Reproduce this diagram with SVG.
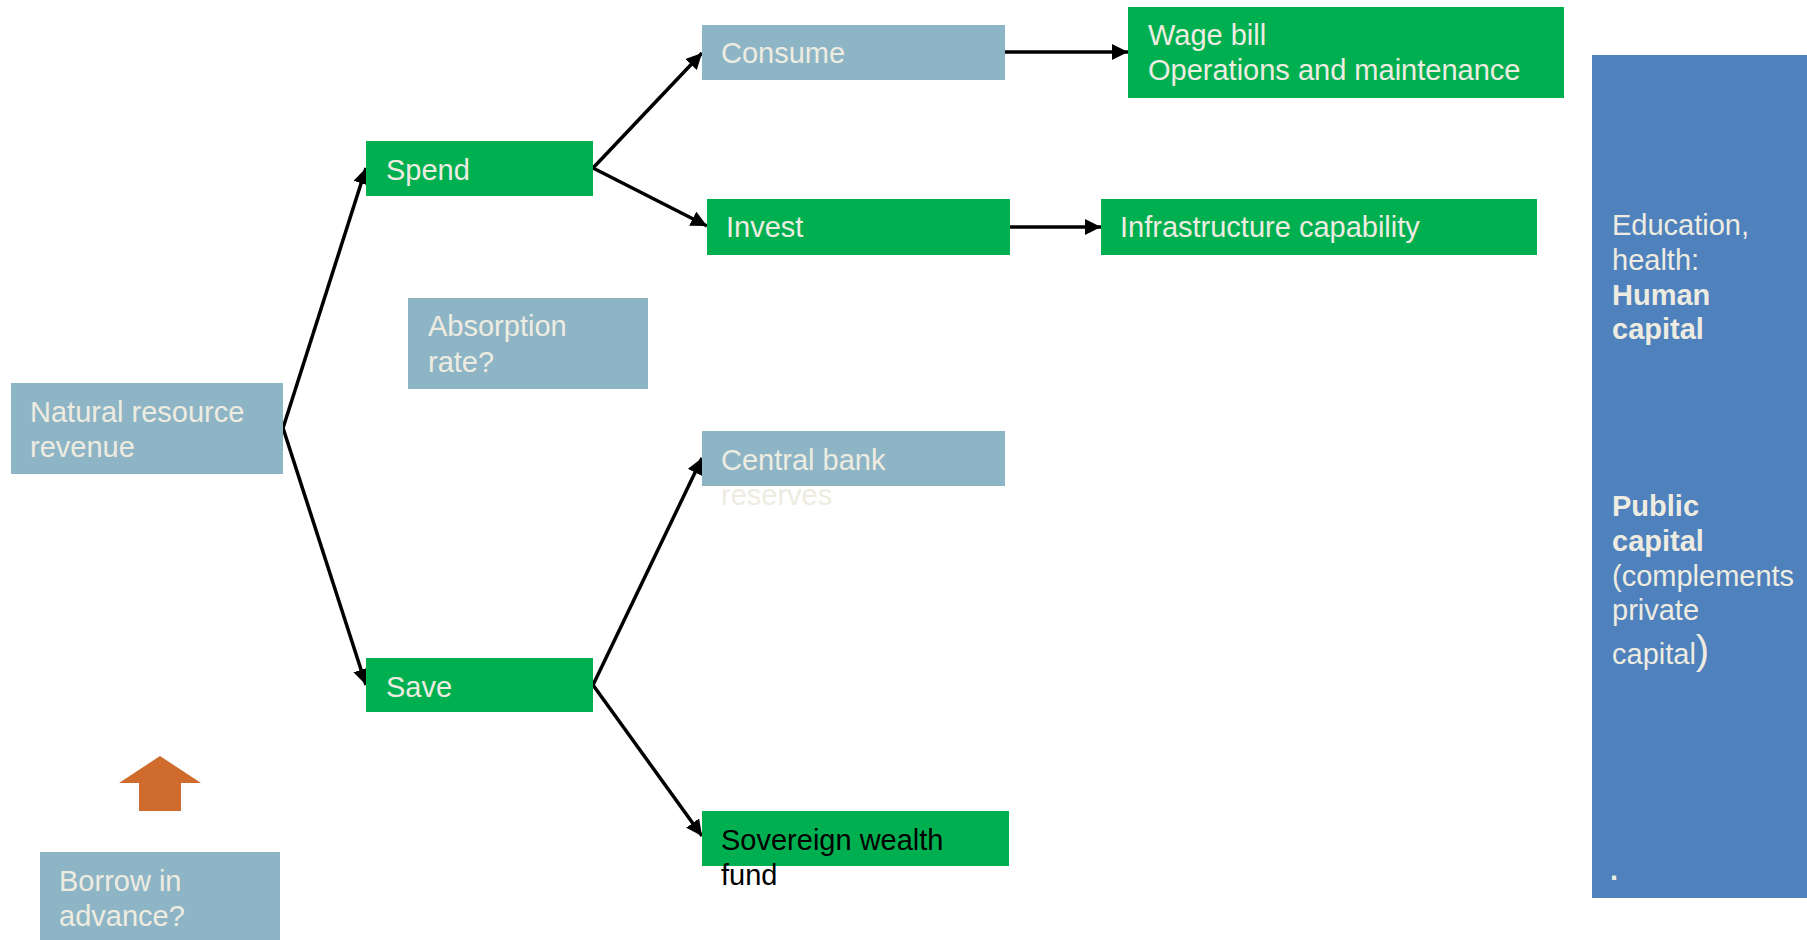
<svg xmlns="http://www.w3.org/2000/svg" width="1807" height="940" viewBox="0 0 1807 940">
  <style>
    .t { font-family: "Liberation Sans", Arial, sans-serif; font-size: 29px; fill: #EEECE1; }
    .dark { fill: #000000; }
    .b { font-weight: bold; }
    .gray { fill: #8EB5C6; }
    .green { fill: #00B050; }
    .panel { fill: #4F81BD; }
    .conn { stroke: #000000; stroke-width: 3.5; fill: none; marker-end: url(#arrow); }
  </style>
  <defs>
    <marker id="arrow" markerUnits="userSpaceOnUse" markerWidth="18" markerHeight="18" refX="16" refY="8" orient="auto">
      <path d="M0,0 L16,8 L0,16 z" fill="#000000"/>
    </marker>
  </defs>
  <rect width="1807" height="940" fill="#FFFFFF"/>

  <g id="panel">
    <rect class="panel" x="1592" y="55" width="215" height="843"/>
    <text class="t" x="1612" y="235">Education,</text>
    <text class="t" x="1612" y="270">health:</text>
    <text class="t b" x="1612" y="305">Human</text>
    <text class="t b" x="1612" y="339">capital</text>
    <text class="t b" x="1612" y="516">Public</text>
    <text class="t b" x="1612" y="551">capital</text>
    <text class="t" x="1612" y="586">(complements</text>
    <text class="t" x="1612" y="620">private</text>
    <text class="t" x="1612" y="664">capital<tspan style="font-size:40px">)</tspan></text>
    <text class="t b" x="1610" y="880">.</text>
  </g>

  <g id="connectors">
    <line class="conn" x1="283" y1="428" x2="366" y2="168"/>
    <line class="conn" x1="283" y1="428" x2="366" y2="685"/>
    <line class="conn" x1="593" y1="168" x2="702" y2="53"/>
    <line class="conn" x1="593" y1="168" x2="707" y2="226"/>
    <line class="conn" x1="1005" y1="52" x2="1128" y2="52"/>
    <line class="conn" x1="1010" y1="227" x2="1101" y2="227"/>
    <line class="conn" x1="593" y1="685" x2="702" y2="458"/>
    <line class="conn" x1="593" y1="685" x2="702" y2="836"/>
  </g>

  <g id="natural-resource-revenue">
    <rect class="gray" x="11" y="383" width="272" height="91"/>
    <text class="t" x="30" y="422">Natural resource</text>
    <text class="t" x="30" y="457">revenue</text>
  </g>

  <g id="spend">
    <rect class="green" x="366" y="141" width="227" height="55"/>
    <text class="t" x="386" y="180">Spend</text>
  </g>

  <g id="absorption-rate">
    <rect class="gray" x="408" y="298" width="240" height="91"/>
    <text class="t" x="428" y="336">Absorption</text>
    <text class="t" x="428" y="372">rate?</text>
  </g>

  <g id="save">
    <rect class="green" x="366" y="658" width="227" height="54"/>
    <text class="t" x="386" y="697">Save</text>
  </g>

  <g id="consume">
    <rect class="gray" x="702" y="25" width="303" height="55"/>
    <text class="t" x="721" y="63">Consume</text>
  </g>

  <g id="wage-bill">
    <rect class="green" x="1128" y="7" width="436" height="91"/>
    <text class="t" x="1148" y="45">Wage bill</text>
    <text class="t" x="1148" y="80">Operations and maintenance</text>
  </g>

  <g id="invest">
    <rect class="green" x="707" y="199" width="303" height="56"/>
    <text class="t" x="726" y="237">Invest</text>
  </g>

  <g id="infrastructure">
    <rect class="green" x="1101" y="199" width="436" height="56"/>
    <text class="t" x="1120" y="237">Infrastructure capability</text>
  </g>

  <g id="central-bank">
    <rect class="gray" x="702" y="431" width="303" height="55"/>
    <text class="t" x="721" y="470">Central bank</text>
    <text class="t" x="721" y="505">reserves</text>
  </g>

  <g id="sovereign-wealth-fund">
    <rect class="green" x="702" y="811" width="307" height="55"/>
    <text class="t dark" x="721" y="850">Sovereign wealth</text>
    <text class="t dark" x="721" y="885">fund</text>
  </g>

  <g id="borrow-arrow">
    <polygon points="160,756 201,783 181,783 181,811 139,811 139,783 119,783" fill="#CF6B2C"/>
  </g>

  <g id="borrow-in-advance">
    <rect class="gray" x="40" y="852" width="240" height="88"/>
    <text class="t" x="59" y="891">Borrow in</text>
    <text class="t" x="59" y="926">advance?</text>
  </g>
</svg>
